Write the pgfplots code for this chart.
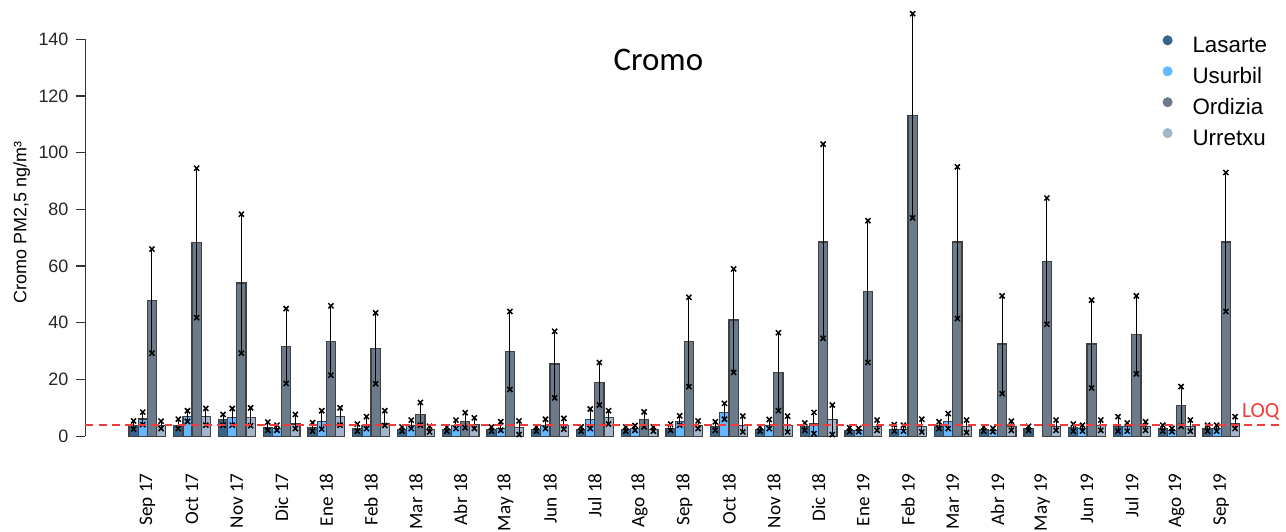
\documentclass[border=0pt]{standalone}
\usepackage{fontspec}
\setmainfont{Liberation Sans}
\newfontfamily\carlito{Carlito}
\usepackage{pgfplots}
\usepackage{pgfplotstable}
\pgfplotsset{compat=1.18}
\definecolor{lasC}{HTML}{36648B}
\definecolor{usuC}{HTML}{63B8FF}
\definecolor{ordC}{HTML}{6C7B8B}
\definecolor{urrC}{HTML}{A2B5CD}
\definecolor{loqC}{HTML}{F23C3C}

\pgfplotstableread{
idx val ep em
0 3.9 1.5 1.4
1 3.9 2.1 1.2
2 5.8 1.9 1.9
3 3.1 1.9 1.0
4 3.1 1.7 1.3
5 2.7 1.6 0.9
6 2.5 0.8 0.7
7 2.5 0.8 0.7
8 2.5 0.8 0.7
9 2.5 0.8 0.7
10 2.5 0.8 0.7
11 2.5 0.8 0.7
12 2.7 1.6 0.6
13 3.5 1.6 1.4
14 2.5 0.8 0.7
15 3.5 1.2 1.4
16 2.1 0.9 0.5
17 2.5 1.6 0.7
18 3.9 1.2 1.2
19 2.5 0.8 0.7
20 2.7 0.8 0.7
21 3.0 1.3 1.2
22 3.5 3.4 1.7
23 2.7 1.2 0.9
24 2.7 1.2 0.9
}\lasarte

\pgfplotstableread{
idx val ep em
0 6.1 2.4 2.0
1 7.0 2.0 1.8
2 6.7 3.1 2.8
3 2.7 1.2 0.6
4 5.3 3.7 2.8
5 3.9 3.0 1.2
6 3.9 1.8 1.2
7 3.9 1.8 1.2
8 2.7 2.4 0.6
9 3.9 2.1 1.2
10 5.8 3.8 3.1
11 2.7 1.1 0.6
12 5.3 1.9 1.4
13 8.5 3.1 2.5
14 3.9 2.0 1.2
15 4.3 4.1 3.4
16 2.1 0.7 0.5
17 2.5 1.4 0.7
18 5.3 2.7 2.6
19 2.1 0.7 0.5
20 nan nan nan
21 2.7 1.2 0.9
22 3.3 1.4 1.5
23 2.1 0.7 0.5
24 2.7 1.2 0.9
}\usurbil

\pgfplotstableread{
idx val ep em
0 48.0 18.0 18.7
1 68.4 26.1 26.6
2 54.0 24.3 24.7
3 31.7 13.3 13.1
4 33.5 12.5 12.0
5 31.0 12.5 12.5
6 7.7 4.2 3.8
7 5.3 3.0 2.3
8 30.0 14.0 13.5
9 25.5 11.5 12.0
10 19.0 7.0 8.0
11 5.8 2.8 2.5
12 33.5 15.5 16.0
13 41.0 18.0 18.5
14 22.5 14.0 13.5
15 68.5 34.5 34.0
16 51.0 25.0 25.0
17 113.0 36.0 36.0
18 68.5 26.5 27.0
19 32.5 17.0 17.5
20 61.5 22.5 22.0
21 32.5 15.5 15.5
22 36.0 13.5 14.0
23 10.8 6.7 7.3
24 68.5 24.5 24.5
}\ordizia

\pgfplotstableread{
idx val ep em
0 3.9 1.4 1.2
1 7.0 2.8 3.1
2 6.6 3.4 2.9
3 4.3 3.4 1.6
4 7.0 3.0 3.1
5 4.3 4.7 0.5
6 2.5 1.0 1.0
7 4.1 2.4 1.4
8 3.0 2.4 2.4
9 3.9 2.4 1.4
10 6.6 2.4 2.3
11 2.5 0.8 0.7
12 3.9 1.5 1.2
13 3.9 3.2 2.4
14 3.9 3.2 2.4
15 5.8 5.2 5.2
16 3.5 2.2 1.4
17 3.3 2.7 1.8
18 3.3 2.4 2.0
19 3.3 2.0 1.2
20 3.5 2.2 1.4
21 3.9 1.8 1.8
22 3.5 1.6 1.4
23 3.3 2.4 1.5
24 4.3 2.6 1.6
}\urretxu

\pgfplotsset{
  mybar/.style={ybar, bar width=0.205, bar shift=0pt, fill=#1, draw=black!75, line width=0.6pt, forget plot,
    error bars/.cd, y dir=both, y explicit, error mark=x,
    error bar style={line width=0.5pt, black},
    error mark options={black, mark size=1.8pt, line width=0.75pt}},
}

\begin{document}
\begin{tikzpicture}
\begin{axis}[
  name=ax,
  scale only axis,
  width=600pt, height=199pt,
  xmin=-1.382, xmax=25.37,
  ymin=0, ymax=140,
  clip=false,
  axis y line*=left,
  axis x line*=bottom,
  x axis line style={draw=none},
  xtick={0,1,...,24},
  xticklabels={Sep 17,Oct 17,Nov 17,Dic 17,Ene 18,Feb 18,Mar 18,Abr 18,May 18,Jun 18,Jul 18,Ago 18,Sep 18,Oct 18,Nov 18,Dic 18,Ene 19,Feb 19,Mar 19,Abr 19,May 19,Jun 19,Jul 19,Ago 19,Sep 19},
  xtick style={draw=none},
  xticklabel style={font=\carlito\fontsize{9.6}{11}\selectfont, yshift=-13.5pt, rotate=90, anchor=east, inner sep=0pt},
  ytick={0,20,...,140},
  tick align=outside,
  major tick length=5pt,
  ytick style={line width=0.6pt, black!80},
  y axis line style={line width=0.6pt, black!80},
  yticklabel style={font=\fontsize{9}{11}\selectfont, text=black!85},
  /pgf/number format/assume math mode=true,
  legend style={at={(axis cs:22.68,141.5)}, anchor=north west, draw=none, fill=none,
    font=\fontsize{11.2}{13}\selectfont, row sep=5pt, column sep=10pt, inner sep=0pt,
    nodes={inner sep=0pt, text height=8pt, text depth=2pt}},
  legend cell align=left,
]
\addplot[mybar=lasC] table[x expr=\thisrow{idx}-0.3075, y=val, y error plus=ep, y error minus=em] {\lasarte};
\addplot[mybar=usuC] table[x expr=\thisrow{idx}-0.1025, y=val, y error plus=ep, y error minus=em] {\usurbil};
\addplot[mybar=ordC] table[x expr=\thisrow{idx}+0.1025, y=val, y error plus=ep, y error minus=em] {\ordizia};
\addplot[mybar=urrC] table[x expr=\thisrow{idx}+0.3075, y=val, y error plus=ep, y error minus=em] {\urretxu};
\addplot[loqC, line width=1pt, dash pattern=on 4pt off 2.6pt, forget plot] coordinates {(-1.382,4) (25.37,4)};

\addlegendimage{legend image code/.code={\fill[lasC] (0pt,3pt) circle (2.3pt);}}
\addlegendentry{Lasarte}
\addlegendimage{legend image code/.code={\fill[usuC] (0pt,3pt) circle (2.3pt);}}
\addlegendentry{Usurbil}
\addlegendimage{legend image code/.code={\fill[ordC] (0pt,3pt) circle (2.3pt);}}
\addlegendentry{Ordizia}
\addlegendimage{legend image code/.code={\fill[urrC] (0pt,3pt) circle (2.3pt);}}
\addlegendentry{Urretxu}

\node[font=\carlito\fontsize{16.5}{19}\selectfont] at (axis cs:11.42,132.7) {Cromo};
\node[text=loqC, font=\carlito\fontsize{10.8}{12}\selectfont] at (axis cs:24.88,8.55) {LOQ};
\node[xshift=-32pt, rotate=90, font=\fontsize{9}{11}\selectfont] at (axis cs:-1.382,75.4) {Cromo PM2,5 ng/m³};
\end{axis}
\path ([shift={(-42.85pt,-46.35pt)}]ax.south west) rectangle ([shift={(0pt,19.65pt)}]ax.north east);
\end{tikzpicture}
\end{document}
